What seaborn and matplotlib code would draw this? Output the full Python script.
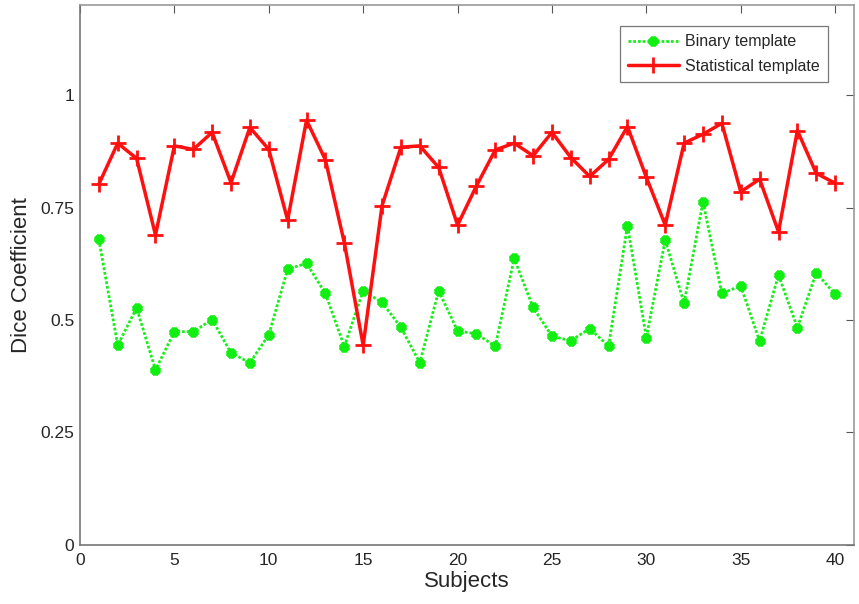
import numpy as np
import pandas as pd
import matplotlib
matplotlib.use('Agg')
import matplotlib.pyplot as plt
import seaborn as sns

subjects = list(range(1, 41))
binary = [0.679, 0.444, 0.527, 0.389, 0.474, 0.474, 0.501, 0.427, 0.405, 0.467,
          0.613, 0.626, 0.559, 0.441, 0.565, 0.539, 0.484, 0.405, 0.565, 0.476,
          0.469, 0.442, 0.637, 0.528, 0.464, 0.454, 0.481, 0.442, 0.710, 0.461,
          0.678, 0.537, 0.763, 0.559, 0.576, 0.453, 0.600, 0.483, 0.605, 0.557]
statistical = [0.802, 0.893, 0.859, 0.689, 0.887, 0.879, 0.917, 0.805, 0.928, 0.879,
               0.722, 0.944, 0.856, 0.672, 0.444, 0.754, 0.884, 0.887, 0.839, 0.711,
               0.798, 0.878, 0.893, 0.865, 0.917, 0.861, 0.819, 0.857, 0.930, 0.817,
               0.711, 0.893, 0.913, 0.937, 0.785, 0.813, 0.696, 0.921, 0.826, 0.804]
xticks = [0, 5, 10, 15, 20, 25, 30, 35, 40]
yticks = [0, 0.25, 0.5, 0.75, 1]
ytick_labels = ['0', '0.25', '0.5', '0.75', '1']

df = pd.DataFrame({'Subjects': subjects, 'Binary template': binary,
                   'Statistical template': statistical})

sns.set_style('white')
plt.rcParams['font.family'] = ['Liberation Sans', 'DejaVu Sans']

fig = plt.figure(figsize=(8.59, 6.04), dpi=100)
ax = fig.add_axes([0.0931, 0.0977, 0.9011, 0.894])

sns.lineplot(data=df, x='Subjects', y='Binary template', ax=ax, color='#1aee1a',
             linewidth=2, label='Binary template')
sns.lineplot(data=df, x='Subjects', y='Statistical template', ax=ax, color='#ff1010',
             linewidth=2.5, label='Statistical template')

# MATLAB-like markers: asterisk on the dotted green line, plus on the red one
green, red = ax.lines[0], ax.lines[1]
green.set_linestyle((0, (1, 0.7)))
green.set_marker((8, 2, 0))
green.set_markersize(7)
green.set_markeredgewidth(3)
green.set_markeredgecolor('#11ee11')
green.set_markerfacecolor('#11ee11')
red.set_marker('+')
red.set_markersize(11)
red.set_markeredgewidth(2)
red.set_markeredgecolor('#ff1010')

ax.set_xlim(0, 41)
ax.set_ylim(0, 1.2)
ax.set_xticks(xticks)
ax.set_yticks(yticks)
ax.set_yticklabels(ytick_labels)
ax.tick_params(direction='in', length=6, width=0.8, color='#555555',
               top=True, right=True, labelsize=12.5)
ax.tick_params(axis='x', pad=6)
ax.tick_params(axis='y', pad=4)
for s in ax.spines.values():
    s.set_color('#777777')
    s.set_linewidth(1.2)
ax.spines['top'].set_color('#999999')
ax.spines['right'].set_color('#999999')

ax.set_xlabel('Subjects', fontsize=16, labelpad=2)
ax.set_ylabel('Dice Coefficient', fontsize=16, labelpad=6)

leg = ax.legend(loc='upper right', bbox_to_anchor=(0.9765, 0.975), fontsize=11.5,
                frameon=True, fancybox=False, handlelength=3.2, borderpad=0.5,
                labelspacing=0.6, handletextpad=0.4)
leg.get_frame().set_edgecolor('#555555')
leg.get_frame().set_linewidth(0.9)

fig.savefig('out.png', dpi=100)
